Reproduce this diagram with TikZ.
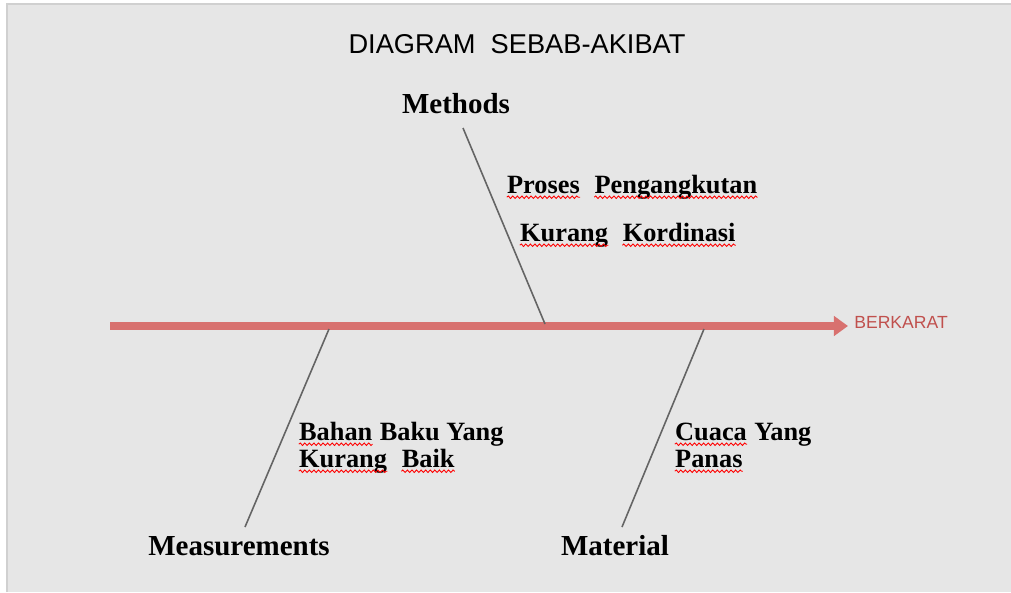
\documentclass[tikz,border=0pt]{standalone}
\usepackage{fontspec}
\setmainfont{Liberation Serif}
\setsansfont{Liberation Sans}
\usetikzlibrary{arrows.meta, decorations.pathmorphing}
\definecolor{latar}{HTML}{E6E6E6}
\definecolor{tepi}{HTML}{D0D0D0}
\definecolor{merahmuda}{HTML}{D8716F}
\definecolor{akibat}{HTML}{C0504D}
\definecolor{abu}{HTML}{646464}
% garis bergelombang merah di bawah kata
\newcommand\salah[1]{\tikz[baseline=(k.base)]{\node[inner sep=0pt, anchor=base west] (k) {#1};
    \draw[red, line width=0.5pt, decorate, decoration={snake, amplitude=0.7pt, segment length=2.6pt}]
        ([yshift=-2.4pt]k.base west) -- ([yshift=-2.4pt]k.base east);}}

\begin{document}
\begin{tikzpicture}[x=0.02cm, y=-0.02cm,
    judul/.style={font=\sffamily\fontsize{15.5}{18}\selectfont, inner sep=0pt, anchor=base},
    kategori/.style={font=\bfseries\fontsize{16.5}{19}\selectfont, inner sep=0pt, anchor=base},
    sebab/.style={font=\bfseries\fontsize{15}{18}\selectfont, inner sep=0pt, anchor=base west},
    punggung/.style={merahmuda, line width=4.5pt, -{Triangle[length=8pt, width=11pt]}},
    duri/.style={abu, line width=0.9pt}]
    % 1. Latar belakang abu-abu
    \useasboundingbox (0,0) rectangle (1011,592);
    \fill[latar] (7,4) rectangle (1011,592);
    \draw[tepi, line width=1pt] (7,592) -- (7,4) -- (1011,4);

    % 2. Judul, kategori dan akibat
    \node[judul] (judul) at (517,53) {DIAGRAM\ \ SEBAB-AKIBAT};
    \node[kategori] (methods) at (456,113) {Methods};
    \node[kategori] (measurements) at (239,555) {Measurements};
    \node[kategori] (material) at (615,555) {Material};
    \node[font=\sffamily\fontsize{10}{12}\selectfont, text=akibat, inner sep=0pt, anchor=base west]
        (berkarat) at (854,328) {BERKARAT};

    % 3. Tulang punggung (panah utama)
    \coordinate (ekor) at (110,326);
    \coordinate (kepala) at (848,326);
    \draw[punggung] (ekor) -- (kepala);

    % 4. Duri ke setiap kategori
    \coordinate (ujungmet) at (463,128);
    \coordinate (sendimet) at (545,324);
    \draw[duri] (ujungmet) -- (sendimet);
    \coordinate (sendimea) at (329,329);
    \coordinate (ujungmea) at (245,527);
    \draw[duri] (sendimea) -- (ujungmea);
    \coordinate (sendimat) at (704,329);
    \coordinate (ujungmat) at (622,527);
    \draw[duri] (sendimat) -- (ujungmat);

    % 5. Sebab-sebab
    \node[sebab] (proses) at (506,193) {\salah{Proses}\ \ \salah{Pengangkutan}};
    \node[sebab] (kordinasi) at (519,241) {\salah{Kurang}\ \ \salah{Kordinasi}};
    \node[sebab] (bahan) at (298,440) {\salah{Bahan} Baku Yang};
    \node[sebab] (baik) at (298,467) {\salah{Kurang}\ \ \salah{Baik}};
    \node[sebab] (cuaca) at (674,440) {\salah{Cuaca} Yang};
    \node[sebab] (panas) at (674,467) {\salah{Panas}};
\end{tikzpicture}
\end{document}
